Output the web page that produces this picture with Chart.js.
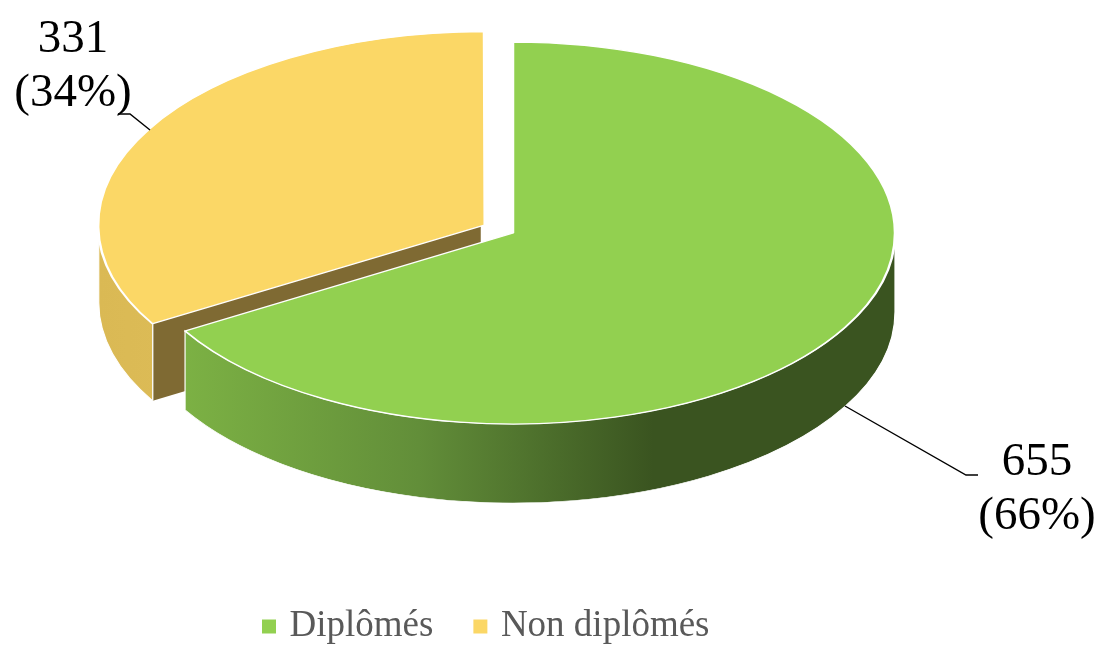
<!DOCTYPE html>
<html>
<head>
<meta charset="utf-8">
<style>html,body{margin:0;padding:0;background:#fff}canvas{display:block}</style>
<script src="https://cdn.jsdelivr.net/npm/chart.js@4"></script>
</head>
<body>
<canvas id="c" width="1101" height="646"></canvas>
<script>
const categories = ['Diplômés', 'Non diplômés'];
const counts = [655, 331];
const topColors = ['#92d050', '#fbd766'];

const SERIF = '"Liberation Serif", serif';
const CENTER = {x: 513, y: 233};
const SQUASH = 0.5;
const RADIUS = 382;
const DEPTH = 79 / SQUASH;
const EXPLODE = 130;
const LABELS = [
  {cx: 1037, base: 475, line: [[845, 406], [966, 475], [978, 475]]},
  {cx: 73, base: 52, line: [[150, 130], [130, 114], [118, 114]]}
];

function sliceOffset(el) {
  const o = (el.options.offset || 0) / 4;
  const fix = 1 - Math.sin(Math.min(Math.PI, el.circumference));
  return o + o * fix;
}
function wall(ctx, cx, cy, r, a0, a1, fill) {
  ctx.beginPath();
  ctx.arc(cx, cy, r, a0, a1);
  ctx.arc(cx, cy + DEPTH, r, a1, a0, true);
  ctx.closePath();
  ctx.fillStyle = fill;
  ctx.fill();
  ctx.strokeStyle = '#ffffff';
  ctx.lineWidth = 1.2;
  ctx.stroke();
}
const pie3d = {
  id: 'pie3d',
  beforeDatasetsDraw(chart) {
    const ctx = chart.ctx;
    const arcs = chart.getDatasetMeta(0).data;
    ctx.save();
    ctx.translate(CENTER.x, CENTER.y);
    ctx.scale(1, SQUASH);
    ctx.translate(-arcs[0].x, -arcs[0].y);

    const yellow = arcs[1], green = arcs[0];
    const ymid = (yellow.startAngle + yellow.endAngle) / 2, yo = sliceOffset(yellow);
    const yx = yellow.x + Math.cos(ymid) * yo, yy = yellow.y + Math.sin(ymid) * yo;
    const r = yellow.outerRadius;

    const yGrad = ctx.createLinearGradient(yx - r, 0, yx - r + 60, 0);
    yGrad.addColorStop(0, '#dab954');
    yGrad.addColorStop(1, '#dcbb56');
    wall(ctx, yx, yy, r, yellow.startAngle, Math.PI, yGrad);

    const px = yx + Math.cos(yellow.startAngle) * r, py = yy + Math.sin(yellow.startAngle) * r;
    ctx.beginPath();
    ctx.moveTo(yx, yy);
    ctx.lineTo(px, py);
    ctx.lineTo(px, py + DEPTH);
    ctx.lineTo(yx, yy + DEPTH);
    ctx.closePath();
    ctx.fillStyle = '#7f6a33';
    ctx.fill();
    ctx.strokeStyle = '#ffffff';
    ctx.lineWidth = 1.2;
    ctx.beginPath();
    ctx.moveTo(px, py);
    ctx.lineTo(px, py + DEPTH);
    ctx.stroke();

    const gx = green.x + Math.cos(green.endAngle) * green.outerRadius;
    const gGrad = ctx.createLinearGradient(gx, 0, green.x + 140, 0);
    gGrad.addColorStop(0, '#7cb144');
    gGrad.addColorStop(0.5, '#628e39');
    gGrad.addColorStop(1, '#3a5420');
    wall(ctx, green.x, green.y, green.outerRadius, 0, green.endAngle, gGrad);
  },
  afterDatasetsDraw(chart) {
    chart.ctx.restore();
  },
  afterDraw(chart) {
    const ctx = chart.ctx;
    const total = counts.reduce((a, b) => a + b, 0);
    ctx.save();
    ctx.fillStyle = '#000';
    ctx.strokeStyle = '#000';
    ctx.lineWidth = 1.4;
    ctx.font = '47px ' + SERIF;
    ctx.textAlign = 'center';
    ctx.textBaseline = 'alphabetic';
    counts.forEach((v, i) => {
      const l = LABELS[i];
      ctx.fillText(String(v), l.cx, l.base);
      ctx.fillText('(' + Math.round(v / total * 100) + '%)', l.cx, l.base + 54);
      ctx.beginPath();
      l.line.forEach((p, j) => j ? ctx.lineTo(p[0], p[1]) : ctx.moveTo(p[0], p[1]));
      ctx.stroke();
    });
    ctx.restore();
  }
};

const LEGEND_PAD = 45;
new Chart(document.getElementById('c'), {
  type: 'pie',
  plugins: [pie3d],
  data: {
    labels: categories,
    datasets: [{
      data: counts,
      backgroundColor: topColors,
      borderColor: '#ffffff',
      borderWidth: 2.5,
      offset: [0, EXPLODE],
      radius: RADIUS,
      clip: false
    }]
  },
  options: {
    responsive: false,
    animation: false,
    events: [],
    layout: {padding: {left: 267 - LEGEND_PAD, right: 0, top: 0, bottom: -9}},
    plugins: {
      tooltip: {enabled: false},
      legend: {
        position: 'bottom',
        align: 'start',
        labels: {
          color: '#595959',
          font: {family: SERIF, size: 37},
          boxWidth: 4,
          boxHeight: 4,
          padding: LEGEND_PAD,
          generateLabels(chart) {
            return Chart.controllers.pie.overrides.plugins.legend.labels.generateLabels(chart)
              .map(it => Object.assign(it, {strokeStyle: it.fillStyle, lineWidth: 10}));
          }
        }
      }
    }
  }
});
</script>
</body>
</html>
